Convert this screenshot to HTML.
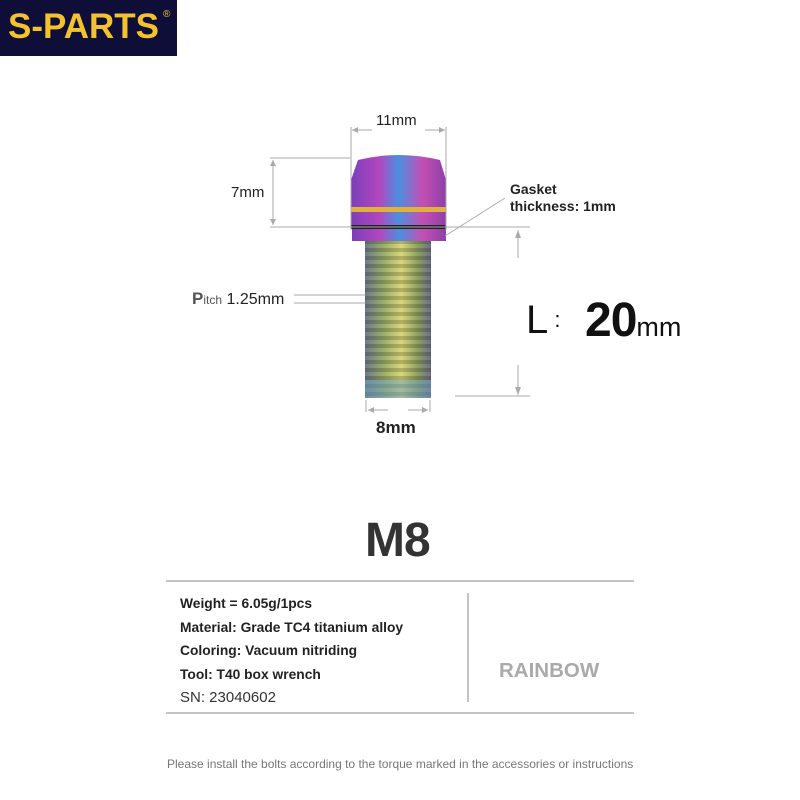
<!DOCTYPE html>
<html><head><style>
body{margin:0;width:800px;height:800px;background:#fff;position:relative;overflow:hidden;font-family:"Liberation Sans",sans-serif}
.a{position:absolute}
.t{position:absolute;white-space:nowrap;color:#222}
</style></head><body>
<div class="a" style="left:0;top:0;width:177px;height:56px;background:#0e0e38"></div>
<div class="t" style="left:8px;top:7px;font-size:35px;font-weight:bold;color:#f4c22d;letter-spacing:0">S-PARTS</div>
<div class="t" style="left:163px;top:9px;font-size:10px;color:#f4c22d">®</div>

<svg class="a" style="left:0;top:0" width="800" height="800">
<defs>
<linearGradient id="h" x1="0" x2="1" y1="0" y2="0">
<stop offset="0" stop-color="#7a3fb8"/><stop offset=".3" stop-color="#b347c0"/><stop offset=".5" stop-color="#4a8fe0"/><stop offset=".75" stop-color="#c54fb5"/><stop offset="1" stop-color="#8d3fa8"/></linearGradient>
<linearGradient id="s" x1="0" x2="1" y1="0" y2="0">
<stop offset="0" stop-color="#6d7a8a"/><stop offset=".3" stop-color="#9fb06a"/><stop offset=".55" stop-color="#d8d77a"/><stop offset=".8" stop-color="#8fa060"/><stop offset="1" stop-color="#6c6f88"/></linearGradient>
<pattern id="th" width="10" height="8" patternUnits="userSpaceOnUse"><rect width="10" height="4" fill="#000" opacity=".18"/></pattern>
</defs>
<path d="M358 160 Q398 150 440 160 L446 180 L446 225 L351 225 L351 180 Z" fill="url(#h)"/>
<rect x="351" y="207" width="95" height="5" fill="#e0b040"/>
<rect x="351" y="225" width="95" height="4" fill="#222"/>
<rect x="352" y="229" width="94" height="12" fill="url(#h)"/>
<rect x="365" y="241" width="66" height="157" fill="url(#s)"/>
<rect x="365" y="241" width="66" height="157" fill="url(#th)"/>
<rect x="365" y="380" width="66" height="18" fill="#6aa0c0" opacity=".5"/>
<g stroke="#aaa" stroke-width="1" fill="none">
<line x1="351" y1="127" x2="351" y2="230"/><line x1="446" y1="127" x2="446" y2="230"/>
<line x1="352" y1="130" x2="372" y2="130"/><line x1="425" y1="130" x2="445" y2="130"/>
<line x1="270" y1="158" x2="350" y2="158"/><line x1="270" y1="227" x2="530" y2="227"/>
<line x1="273" y1="160" x2="273" y2="225"/>
<line x1="518" y1="230" x2="518" y2="258"/><line x1="518" y1="365" x2="518" y2="395"/>
<line x1="455" y1="396" x2="530" y2="396"/>
<line x1="366" y1="400" x2="366" y2="412"/><line x1="430" y1="400" x2="430" y2="412"/>
<line x1="368" y1="410" x2="388" y2="410"/><line x1="408" y1="410" x2="428" y2="410"/>
<line x1="294" y1="295" x2="365" y2="295"/><line x1="294" y1="303" x2="365" y2="303"/>
<line x1="505" y1="198" x2="445" y2="236"/>
</g>
<g fill="#aaa">
<path d="M352 130 l6 -3 v6z"/><path d="M445 130 l-6 -3 v6z"/>
<path d="M518 230 l-3 8 h6z"/><path d="M518 395 l-3 -8 h6z"/>
<path d="M368 410 l6 -3 v6z"/><path d="M428 410 l-6 -3 v6z"/>
<path d="M273 160 l-3 6 h6z"/><path d="M273 225 l-3 -6 h6z"/>
</g>
<line x1="166" y1="581" x2="634" y2="581" stroke="#888"/>
<line x1="166" y1="713" x2="634" y2="713" stroke="#888"/>
<line x1="468" y1="593" x2="468" y2="702" stroke="#888"/>
</svg>

<div class="t" style="left:376px;top:112px;font-size:15px">11mm</div>
<div class="t" style="left:231px;top:184px;font-size:15px">7mm</div>
<div class="t" style="left:510px;top:181px;font-size:14px;font-weight:bold;line-height:17px">Gasket<br>thickness: 1mm</div>
<div class="t" style="left:192px;top:289px;font-size:16px"><b style="font-size:17px;color:#555">P</b><span style="font-size:12px;color:#555">itch</span> 1.25mm</div>
<div class="t" style="left:526px;top:298px;font-size:40px;color:#111">L<span style="font-size:22px;vertical-align:6px">&nbsp;:</span></div>
<div class="t" style="left:585px;top:293px;font-size:48px;font-weight:bold;color:#111;letter-spacing:-1px">20<span style="font-size:27px;font-weight:normal;letter-spacing:0">mm</span></div>
<div class="t" style="left:376px;top:418px;font-size:17px;font-weight:bold">8mm</div>
<div class="t" style="left:365px;top:513px;font-size:48px;font-weight:bold;color:#333;letter-spacing:-1px">M8</div>
<div class="t" style="left:180px;top:592px;font-size:13.8px;font-weight:bold;line-height:23.5px">Weight = 6.05g/1pcs<br>Material: Grade TC4 titanium alloy<br>Coloring: Vacuum nitriding<br>Tool: T40 box wrench<br><span style="font-weight:normal;font-size:15px;color:#333">SN: 23040602</span></div>
<div class="t" style="left:499px;top:659px;font-size:20.5px;font-weight:bold;color:#aaa">RAINBOW</div>
<div class="t" style="left:167px;top:757px;font-size:12px;color:#777">Please install the bolts according to the torque marked in the accessories or instructions</div>
</body></html>
